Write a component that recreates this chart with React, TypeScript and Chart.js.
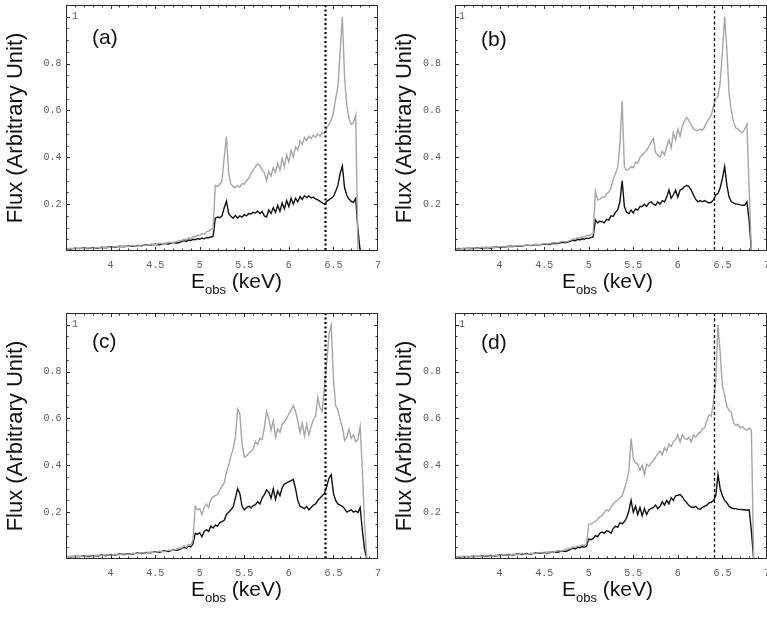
import React, { useEffect, useRef } from 'react';
import { Chart, registerables } from 'chart.js';
Chart.register(...registerables);

// Observed energy grid (keV)
const ENERGY = [
  3.5, 3.55, 3.6, 3.65, 3.7, 3.75, 3.8, 3.85, 3.9, 3.95,
  4.0, 4.05, 4.1, 4.15, 4.2, 4.25, 4.3, 4.35, 4.4, 4.45,
  4.5, 4.55, 4.6, 4.65, 4.7, 4.75,
  4.8, 4.825, 4.85, 4.875, 4.9, 4.925, 4.95, 4.975, 5.0, 5.025,
  5.05, 5.075, 5.1, 5.125, 5.15, 5.175, 5.2, 5.225, 5.25, 5.275,
  5.3, 5.325, 5.35, 5.375, 5.4, 5.425, 5.45, 5.475, 5.5, 5.525,
  5.55, 5.575, 5.6, 5.625, 5.65, 5.675, 5.7, 5.725, 5.75, 5.775,
  5.8, 5.825, 5.85, 5.875, 5.9, 5.925, 5.95, 5.975, 6.0, 6.025,
  6.05, 6.075, 6.1, 6.125, 6.15, 6.175, 6.2, 6.225, 6.25, 6.275,
  6.3, 6.325, 6.35, 6.375, 6.4, 6.425, 6.45, 6.475, 6.5, 6.525,
  6.55, 6.575, 6.6, 6.625, 6.65, 6.675, 6.7, 6.725, 6.75, 6.775,
  6.8, 6.825, 6.85, 6.875, 6.9,
];

// Panel (a)
const A_GREY = [
  0.008, 0.012, 0.009, 0.013, 0.010, 0.014, 0.012, 0.015, 0.013, 0.017,
  0.015, 0.019, 0.017, 0.021, 0.019, 0.024, 0.021, 0.026, 0.024, 0.029,
  0.027, 0.033, 0.030, 0.037, 0.035, 0.042,
  0.045, 0.050, 0.048, 0.056, 0.054, 0.062, 0.060, 0.068, 0.066, 0.075,
  0.072, 0.082, 0.085, 0.092, 0.095, 0.280, 0.275, 0.285, 0.300, 0.400,
  0.488, 0.330, 0.285, 0.275, 0.270, 0.280, 0.272, 0.288, 0.285, 0.300,
  0.310, 0.330, 0.345, 0.360, 0.372, 0.365, 0.345, 0.335, 0.300, 0.340,
  0.320, 0.355, 0.335, 0.375, 0.345, 0.395, 0.360, 0.410, 0.380, 0.430,
  0.400, 0.445, 0.430, 0.470, 0.455, 0.485, 0.470, 0.490, 0.480, 0.495,
  0.485, 0.500, 0.490, 0.505, 0.500, 0.525, 0.540, 0.560, 0.590, 0.650,
  0.700, 0.850, 1.000, 0.740, 0.620, 0.565, 0.540, 0.548, 0.580, 0.000,
  null, null, null, null, null,
];
const A_BLACK = [
  0.010, 0.008, 0.012, 0.010, 0.013, 0.011, 0.015, 0.012, 0.016, 0.014,
  0.018, 0.016, 0.020, 0.018, 0.022, 0.020, 0.024, 0.022, 0.027, 0.025,
  0.029, 0.027, 0.032, 0.030, 0.036, 0.034,
  0.040, 0.044, 0.041, 0.047, 0.045, 0.050, 0.048, 0.053, 0.050, 0.055,
  0.052, 0.057, 0.056, 0.060, 0.062, 0.140, 0.145, 0.142, 0.150, 0.185,
  0.213, 0.160, 0.148, 0.140, 0.152, 0.140, 0.150, 0.145, 0.155, 0.150,
  0.160, 0.158, 0.165, 0.162, 0.170, 0.160, 0.168, 0.150, 0.145, 0.175,
  0.160, 0.185, 0.165, 0.195, 0.170, 0.205, 0.180, 0.215, 0.190, 0.225,
  0.200, 0.225, 0.210, 0.232, 0.220, 0.236, 0.228, 0.235, 0.226, 0.230,
  0.222, 0.218, 0.212, 0.205, 0.200, 0.212, 0.218, 0.225, 0.232, 0.255,
  0.280, 0.330, 0.362, 0.270, 0.238, 0.222, 0.212, 0.208, 0.225, 0.090,
  0.000, null, null, null, null,
];

// Panel (b)
const B_GREY = [
  0.010, 0.008, 0.013, 0.011, 0.014, 0.012, 0.016, 0.013, 0.017, 0.015,
  0.019, 0.017, 0.021, 0.019, 0.024, 0.022, 0.026, 0.024, 0.029, 0.027,
  0.032, 0.030, 0.036, 0.034, 0.041, 0.039,
  0.046, 0.052, 0.050, 0.057, 0.054, 0.061, 0.059, 0.066, 0.064, 0.072,
  0.075, 0.255, 0.218, 0.220, 0.230, 0.228, 0.245, 0.250, 0.270, 0.305,
  0.330, 0.355, 0.455, 0.640, 0.360, 0.345, 0.350, 0.360, 0.355, 0.380,
  0.375, 0.400, 0.410, 0.420, 0.430, 0.445, 0.465, 0.480, 0.420, 0.410,
  0.400, 0.425, 0.410, 0.445, 0.475, 0.440, 0.505, 0.475, 0.520, 0.490,
  0.535, 0.555, 0.570, 0.555, 0.540, 0.520, 0.515, 0.515, 0.520, 0.515,
  0.530, 0.550, 0.565, 0.580, 0.620, 0.650, 0.660, 0.720, 0.850, 1.000,
  0.860, 0.670, 0.600, 0.550, 0.525, 0.520, 0.510, 0.505, 0.520, 0.540,
  0.260, 0.000, null, null, null,
];
const B_BLACK = [
  0.008, 0.011, 0.009, 0.012, 0.010, 0.014, 0.012, 0.015, 0.013, 0.016,
  0.018, 0.016, 0.020, 0.019, 0.022, 0.021, 0.025, 0.023, 0.027, 0.026,
  0.030, 0.028, 0.033, 0.032, 0.037, 0.036,
  0.042, 0.046, 0.044, 0.050, 0.047, 0.052, 0.050, 0.055, 0.053, 0.057,
  0.060, 0.133, 0.120, 0.127, 0.125, 0.120, 0.135, 0.132, 0.150, 0.148,
  0.165, 0.175, 0.210, 0.300, 0.190, 0.165, 0.160, 0.175, 0.162, 0.180,
  0.175, 0.190, 0.190, 0.200, 0.190, 0.205, 0.210, 0.200, 0.195, 0.210,
  0.200, 0.215, 0.210, 0.230, 0.260, 0.225, 0.240, 0.260, 0.230, 0.260,
  0.265, 0.275, 0.280, 0.275, 0.260, 0.240, 0.220, 0.210, 0.215, 0.210,
  0.215, 0.210, 0.205, 0.208, 0.218, 0.240, 0.245, 0.270, 0.310, 0.360,
  0.280, 0.230, 0.210, 0.205, 0.200, 0.200, 0.197, 0.195, 0.195, 0.210,
  0.130, 0.000, null, null, null,
];

// Panel (c)
const C_GREY = [
  0.009, 0.012, 0.010, 0.013, 0.011, 0.015, 0.012, 0.016, 0.014, 0.018,
  0.016, 0.020, 0.018, 0.022, 0.020, 0.025, 0.022, 0.027, 0.025, 0.030,
  0.028, 0.034, 0.031, 0.038, 0.036, 0.044,
  0.048, 0.056, 0.050, 0.062, 0.058, 0.082, 0.225, 0.210, 0.215, 0.190,
  0.220, 0.235, 0.220, 0.255, 0.265, 0.270, 0.275, 0.295, 0.310, 0.325,
  0.370, 0.400, 0.440, 0.470, 0.520, 0.640, 0.620, 0.490, 0.435, 0.440,
  0.450, 0.460, 0.470, 0.500, 0.490, 0.515, 0.510, 0.560, 0.630, 0.600,
  0.550, 0.590, 0.520, 0.555, 0.540, 0.575, 0.585, 0.600, 0.620, 0.635,
  0.655, 0.630, 0.590, 0.540, 0.580, 0.525, 0.575, 0.530, 0.565, 0.595,
  0.610, 0.690, 0.645, 0.630, 0.740, 0.840, 0.960, 1.000, 0.770, 0.655,
  0.635, 0.595, 0.565, 0.505, 0.520, 0.555, 0.515, 0.530, 0.500, 0.510,
  0.565, 0.380, 0.150, 0.000, null,
];
const C_BLACK = [
  0.011, 0.009, 0.012, 0.010, 0.014, 0.011, 0.015, 0.013, 0.017, 0.014,
  0.019, 0.017, 0.021, 0.019, 0.023, 0.021, 0.026, 0.023, 0.028, 0.026,
  0.031, 0.029, 0.035, 0.032, 0.039, 0.037,
  0.045, 0.050, 0.046, 0.055, 0.052, 0.065, 0.110, 0.105, 0.112, 0.095,
  0.118, 0.125, 0.118, 0.140, 0.132, 0.145, 0.140, 0.155, 0.160, 0.165,
  0.190, 0.200, 0.210, 0.222, 0.260, 0.300, 0.280, 0.225, 0.210, 0.220,
  0.225, 0.218, 0.228, 0.232, 0.245, 0.235, 0.260, 0.275, 0.295, 0.285,
  0.260, 0.300, 0.255, 0.290, 0.270, 0.305, 0.320, 0.325, 0.330, 0.335,
  0.340, 0.300, 0.250, 0.225, 0.220, 0.215, 0.225, 0.210, 0.220, 0.230,
  0.235, 0.250, 0.260, 0.270, 0.280, 0.310, 0.345, 0.360, 0.280, 0.250,
  0.235, 0.230, 0.225, 0.215, 0.200, 0.205, 0.210, 0.200, 0.205, 0.198,
  0.220, 0.120, 0.040, 0.000, null,
];

// Panel (d)
const D_GREY = [
  0.008, 0.011, 0.009, 0.012, 0.010, 0.013, 0.011, 0.015, 0.012, 0.016,
  0.014, 0.018, 0.016, 0.020, 0.018, 0.023, 0.020, 0.025, 0.022, 0.028,
  0.025, 0.031, 0.029, 0.036, 0.034, 0.042,
  0.046, 0.052, 0.049, 0.056, 0.054, 0.060, 0.058, 0.066, 0.148, 0.150,
  0.155, 0.160, 0.170, 0.180, 0.185, 0.200, 0.210, 0.205, 0.220, 0.235,
  0.245, 0.250, 0.262, 0.270, 0.300, 0.330, 0.375, 0.515, 0.430, 0.410,
  0.405, 0.380, 0.400, 0.360, 0.405, 0.395, 0.410, 0.420, 0.435, 0.450,
  0.460, 0.445, 0.475, 0.460, 0.490, 0.480, 0.500, 0.510, 0.530, 0.500,
  0.530, 0.515, 0.510, 0.520, 0.500, 0.530, 0.520, 0.535, 0.540, 0.555,
  0.560, 0.590, 0.615, 0.610, 0.670, 0.760, 1.000, 0.880, 0.740, 0.700,
  0.650, 0.635, 0.625, 0.580, 0.570, 0.575, 0.560, 0.565, 0.555, 0.550,
  0.560, 0.550, 0.000, null, null,
];
const D_BLACK = [
  0.010, 0.008, 0.011, 0.009, 0.012, 0.010, 0.013, 0.011, 0.015, 0.013,
  0.017, 0.015, 0.019, 0.017, 0.021, 0.019, 0.024, 0.021, 0.026, 0.024,
  0.028, 0.026, 0.031, 0.029, 0.034, 0.033,
  0.042, 0.046, 0.043, 0.050, 0.048, 0.053, 0.050, 0.055, 0.085, 0.082,
  0.088, 0.100, 0.095, 0.110, 0.115, 0.110, 0.120, 0.118, 0.110, 0.130,
  0.140, 0.135, 0.155, 0.150, 0.160, 0.175, 0.205, 0.250, 0.200, 0.225,
  0.190, 0.220, 0.185, 0.215, 0.190, 0.210, 0.215, 0.220, 0.230, 0.215,
  0.225, 0.245, 0.230, 0.250, 0.235, 0.262, 0.250, 0.270, 0.272, 0.275,
  0.265, 0.250, 0.240, 0.228, 0.222, 0.220, 0.225, 0.215, 0.212, 0.220,
  0.225, 0.230, 0.240, 0.242, 0.250, 0.270, 0.360, 0.300, 0.270, 0.250,
  0.240, 0.225, 0.218, 0.215, 0.215, 0.212, 0.212, 0.210, 0.210, 0.208,
  0.210, 0.120, 0.000, null, null,
];

const X_TICKS = [4, 4.5, 5, 5.5, 6, 6.5, 7];
const X_TICK_LABELS = ['4', '4.5', '5', '5.5', '6', '6.5', '7'];
const Y_TICKS = [0.2, 0.4, 0.6, 0.8, 1];
const Y_TICK_LABELS = ['0.2', '0.4', '0.6', '0.8', '1'];
const LINE_ENERGY = 6.4;
const PANEL_LABELS = ['(a)', '(b)', '(c)', '(d)'];
const Y_TITLE = 'Flux (Arbitrary Unit)';
const X_TITLE_MAIN = 'E';
const X_TITLE_SUB = 'obs';
const X_TITLE_UNIT = ' (keV)';

const X_MIN = 3.5;
const X_MAX = 7;
const Y_MIN = 0;
const Y_MAX = 1.05;

type PanelCfg = {
  label: string;
  grey: (number | null)[];
  black: (number | null)[];
  left: number;
  top: number;
  w: number;
  h: number;
  padL: number;
  padR: number;
  padB: number;
  heavy: boolean;
  yGap: number;
  oneOff: number;
  titleLeft: number;
  labelDy: number;
};

const PANELS: PanelCfg[] = [
  { label: PANEL_LABELS[0], grey: A_GREY, black: A_BLACK, left: 0, top: 0, w: 383, h: 305, padL: 66, padR: 5, padB: 54, heavy: true, yGap: 4.5, oneOff: 9, titleLeft: 125, labelDy: 33 },
  { label: PANEL_LABELS[1], grey: B_GREY, black: B_BLACK, left: 383, top: 0, w: 384, h: 305, padL: 72, padR: 0, padB: 54, heavy: false, yGap: 14, oneOff: 7, titleLeft: 107, labelDy: 35 },
  { label: PANEL_LABELS[2], grey: C_GREY, black: C_BLACK, left: 0, top: 308, w: 383, h: 310, padL: 66, padR: 5, padB: 59, heavy: true, yGap: 4.5, oneOff: 9, titleLeft: 125, labelDy: 29 },
  { label: PANEL_LABELS[3], grey: D_GREY, black: D_BLACK, left: 383, top: 308, w: 384, h: 310, padL: 72, padR: 0, padB: 59, heavy: false, yGap: 14, oneOff: 7, titleLeft: 107, labelDy: 30 },
];

const SANS = '"Liberation Sans", Arial, Helvetica, sans-serif';
const MONO = '"Liberation Mono", "DejaVu Sans Mono", monospace';

function makeDecor(p: PanelCfg) {
  return {
    id: 'panelDecor',
    afterDatasetsDraw(chart: any) {
      const ctx: CanvasRenderingContext2D = chart.ctx;
      const a = chart.chartArea;
      const xs = chart.scales.x;
      const ys = chart.scales.y;
      ctx.save();

      // reference line at 6.4 keV
      const lx = Math.round(xs.getPixelForValue(LINE_ENERGY)) + 0.5;
      ctx.beginPath();
      ctx.setLineDash(p.heavy ? [2, 2.5] : [3, 2.5]);
      ctx.lineWidth = p.heavy ? 2.2 : 1.3;
      ctx.strokeStyle = '#000';
      ctx.moveTo(lx, a.top);
      ctx.lineTo(lx, a.bottom);
      ctx.stroke();
      ctx.setLineDash([]);

      // frame
      ctx.lineWidth = 1;
      ctx.strokeStyle = '#2a2a2a';
      ctx.strokeRect(a.left + 0.5, a.top + 0.5, a.right - a.left - 1, a.bottom - a.top - 1);

      // inward ticks
      ctx.beginPath();
      for (let k = 36; k < 70; k++) {
        const px = Math.round(xs.getPixelForValue(k / 10)) + 0.5;
        const len = k % 5 === 0 ? 4 : 2.5;
        ctx.moveTo(px, a.bottom);
        ctx.lineTo(px, a.bottom - len);
        ctx.moveTo(px, a.top);
        ctx.lineTo(px, a.top + len);
      }
      for (let k = 1; k <= 20; k++) {
        const py = Math.round(ys.getPixelForValue(k * 0.05)) + 0.5;
        const len = k % 4 === 0 ? 4 : 2.5;
        ctx.moveTo(a.left, py);
        ctx.lineTo(a.left + len, py);
        ctx.moveTo(a.right, py);
        ctx.lineTo(a.right - len, py);
      }
      ctx.stroke();

      // tick labels
      ctx.fillStyle = '#5a5a5a';
      ctx.font = '10px ' + MONO;
      ctx.textBaseline = 'middle';
      ctx.textAlign = 'center';
      X_TICKS.forEach((v, i) => {
        ctx.fillText(X_TICK_LABELS[i], xs.getPixelForValue(v), a.bottom + 14);
      });
      Y_TICKS.forEach((v, i) => {
        const py = ys.getPixelForValue(v);
        if (v === 1) {
          ctx.textAlign = 'center';
          ctx.fillText(Y_TICK_LABELS[i], a.left + p.oneOff, py);
        } else {
          ctx.textAlign = 'right';
          ctx.fillText(Y_TICK_LABELS[i], a.left - p.yGap, py);
        }
      });

      // panel label
      ctx.fillStyle = '#111';
      ctx.font = '21px ' + SANS;
      ctx.textAlign = 'left';
      ctx.textBaseline = 'middle';
      ctx.fillText(p.label, a.left + 26, a.top + p.labelDy);

      // y title
      ctx.save();
      ctx.translate(a.left - 50.5, (a.top + a.bottom) / 2);
      ctx.rotate(-Math.PI / 2);
      ctx.font = '22px ' + SANS;
      ctx.textAlign = 'center';
      ctx.textBaseline = 'middle';
      ctx.fillText(Y_TITLE, 0, 0);
      ctx.restore();

      // x title with subscript
      ctx.textAlign = 'left';
      ctx.textBaseline = 'alphabetic';
      const base = a.bottom + 37;
      let tx = a.left + p.titleLeft;
      ctx.font = '21px ' + SANS;
      ctx.fillText(X_TITLE_MAIN, tx, base);
      tx += ctx.measureText(X_TITLE_MAIN).width;
      ctx.font = '13px ' + SANS;
      ctx.fillText(X_TITLE_SUB, tx, base + 6);
      tx += ctx.measureText(X_TITLE_SUB).width;
      ctx.font = '21px ' + SANS;
      ctx.fillText(X_TITLE_UNIT, tx, base);

      ctx.restore();
    },
  };
}

function SpectrumPanel({ p }: { p: PanelCfg }) {
  const ref = useRef<HTMLCanvasElement | null>(null);
  useEffect(() => {
    if (!ref.current) return;
    const chart = new Chart(ref.current, {
      type: 'line',
      data: {
        datasets: [
          {
            data: ENERGY.map((e, i) => ({ x: e, y: p.grey[i] })) as any,
            borderColor: '#a6a6a6',
            borderWidth: 1.4,
            pointRadius: 0,
            tension: 0,
            spanGaps: false,
          },
          {
            data: ENERGY.map((e, i) => ({ x: e, y: p.black[i] })) as any,
            borderColor: '#111111',
            borderWidth: 1.4,
            pointRadius: 0,
            tension: 0,
            spanGaps: false,
          },
        ],
      },
      options: {
        animation: false,
        responsive: false,
        devicePixelRatio: 1,
        events: [],
        layout: { padding: { left: p.padL, top: 5, right: p.padR, bottom: p.padB } },
        scales: {
          x: { type: 'linear', min: X_MIN, max: X_MAX, display: false },
          y: { type: 'linear', min: Y_MIN, max: Y_MAX, display: false },
        },
        plugins: { legend: { display: false }, tooltip: { enabled: false } },
      },
      plugins: [makeDecor(p)],
    });
    return () => chart.destroy();
  }, [p]);
  return (
    <canvas
      ref={ref}
      width={p.w}
      height={p.h}
      style={{ position: 'absolute', left: p.left, top: p.top, width: p.w, height: p.h }}
    />
  );
}

export default function App() {
  return (
    <div style={{ position: 'absolute', left: 0, top: 0, width: 767, height: 618, overflow: 'hidden', background: '#fff' }}>
      {PANELS.map((p) => (
        <SpectrumPanel key={p.label} p={p} />
      ))}
    </div>
  );
}
